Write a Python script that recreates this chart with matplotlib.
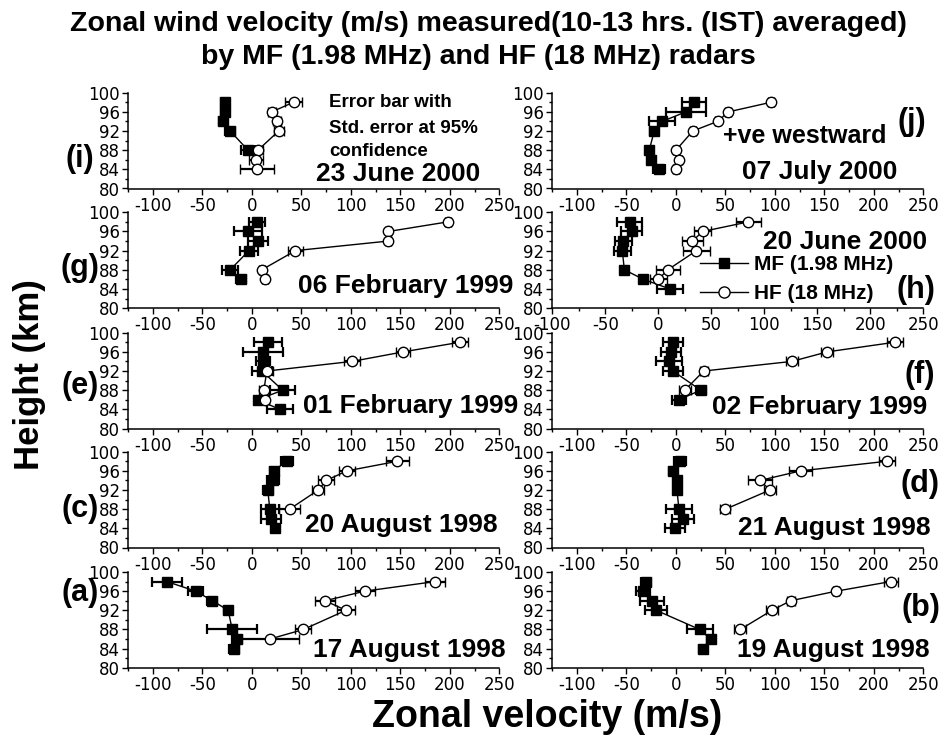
import matplotlib
matplotlib.use("Agg")
import matplotlib.pyplot as plt
from matplotlib.lines import Line2D
from matplotlib.ticker import MultipleLocator
from matplotlib import font_manager

plt.rcParams['axes.unicode_minus'] = False

W, H = 945, 745

# Heights (km) of the averaged wind estimates, top-down
heights = [98, 96, 94, 92, 88, 86, 84]

# Zonal wind (m/s) and 95% std-error half widths, per day (top-down in height)
mf_a = [-86, -57, -40, -24, -20, -15, -18]
mf_a_err = [15, 8, 5, 4, 25, 5, 5]
hf_a = [185, 114, 74, 95, 52, 18]
hf_a_err = [10, 10, 10, 9, 8, 30]

mf_b = [-30, -33, -24, -20, 24, 35, 27]
mf_b_err = [5, 7, 12, 11, 13, 4, 4]
hf_b = [217, 162, 116, 97, 65]
hf_b_err = [7, 3, 4, 6, 6]

mf_c = [35, 22, 21, 16, 18, 19, 23]
mf_c_err = [6, 4, 6, 5, 9, 10, 3]
hf_c = [147, 96, 75, 67, 38]
hf_c_err = [12, 8, 8, 6, 11]

mf_d = [4, -3, 1, 1, 3, 7, -1]
mf_d_err = [6, 4, 2, 2, 13, 11, 10]
hf_d = [213, 126, 85, 95, 50]
hf_d_err = [8, 12, 12, 6, 5]

mf_e = [16, 11, 11, 10, 31, 6, 28]
mf_e_err = [14, 20, 7, 10, 13, 3, 13]
hf_e = [210, 153, 101, 15, 12, 13]
hf_e_err = [8, 7, 8, 6, 5, 4]

mf_f = [-3, -5, -7, -3, 25, 3]
mf_f_err = [10, 10, 13, 10, 5, 7]
hf_f = [221, 153, 117, 28, 9]
hf_f_err = [8, 6, 6, 4, 6]

mf_g = [5, -4, 6, -3, -22, -11]
mf_g_err = [8, 14, 10, 9, 8, 5]
hf_g = [198, 138, 138, 44, 10, 13]
hf_g_err = [3, 3, 3, 8, 3, 3]

mf_h = [-27, -25, -33, -34, -32, -14, 11]
mf_h_err = [12, 10, 8, 8, 2, 3, 12]
hf_h = [85, 42, 32, 36, 9, 0]
hf_h_err = [12, 8, 10, 13, 11, 8]

mf_i = [-27, -27, -29, -22, -4]
mf_i_err = [4, 4, 4, 5, 7]
hf_i = [42, 20, 25, 27, 6, 4, 5]
hf_i_err = [9, 4, 4, 5, 5, 7, 17]

mf_j = [18, 10, -14, -22, -27, -25, -17]
mf_j_err = [12, 20, 13, 4, 3, 3, 6]
hf_j = [96, 53, 42, 17, 0, 3, 0]
hf_j_err = [3, 3, 3, 3, 3, 3, 3]

dates = {
    'a': '17 August 1998', 'b': '19 August 1998', 'c': '20 August 1998',
    'd': '21 August 1998', 'e': '01 February 1999', 'f': '02 February 1999',
    'g': '06 February 1999', 'h': '20 June 2000', 'i': '23 June 2000',
    'j': '07 July 2000',
}

names = {f.name for f in font_manager.fontManager.ttflist}
BOLD = 'Liberation Sans' if 'Liberation Sans' in names else 'DejaVu Sans'
NARROW = 'Liberation Sans Narrow' if 'Liberation Sans Narrow' in names else BOLD
TICKFONT = 'DejaVu Sans'


def fx(px):
    return px / W


def fy(py):
    return 1 - py / H


fig = plt.figure(figsize=(W / 100, H / 100), dpi=100)

col_left = {0: 128.3, 1: 552.3}
col_w = 371.0
row_top = [92.7, 212.3, 332.7, 451.7, 572.0]
row_h = 95.8

# panel key -> (column, row, x-limits, letter position, date anchor (left, baseline))
panels = {
    'i': (0, 0, (-125, 250), (80, 159), (316, 181), mf_i, mf_i_err, hf_i, hf_i_err),
    'j': (1, 0, (-125, 250), (912, 122), (742, 179), mf_j, mf_j_err, hf_j, hf_j_err),
    'g': (0, 1, (-125, 250), (80, 268), (298, 293), mf_g, mf_g_err, hf_g, hf_g_err),
    'h': (1, 1, (-100, 250), (916, 290), (763, 249), mf_h, mf_h_err, hf_h, hf_h_err),
    'e': (0, 2, (-125, 250), (80, 386), (303, 413), mf_e, mf_e_err, hf_e, hf_e_err),
    'f': (1, 2, (-125, 250), (920, 375), (712, 414), mf_f, mf_f_err, hf_f, hf_f_err),
    'c': (0, 3, (-125, 250), (80, 509), (305, 532), mf_c, mf_c_err, hf_c, hf_c_err),
    'd': (1, 3, (-125, 250), (920, 484), (738, 535), mf_d, mf_d_err, hf_d, hf_d_err),
    'a': (0, 4, (-125, 250), (80, 593), (313, 657), mf_a, mf_a_err, hf_a, hf_a_err),
    'b': (1, 4, (-125, 250), (921, 608), (737, 657), mf_b, mf_b_err, hf_b, hf_b_err),
}

axes = {}
for key, (col, row, xlim, letter_xy, date_xy, mf, mf_err, hf, hf_err) in panels.items():
    left = col_left[col]
    top = row_top[row]
    ax = fig.add_axes([fx(left), fy(top + row_h), col_w / W, row_h / H])
    axes[key] = ax

    ax.errorbar(mf, heights[:len(mf)], xerr=mf_err, fmt='-s', color='k',
                ms=6.5, mfc='k', mec='k', lw=1, elinewidth=1.6,
                capsize=3.8, capthick=1.6, zorder=3)
    ax.errorbar(hf, heights[:len(hf)], xerr=hf_err, fmt='-o', color='k',
                ms=7.5, mfc='white', mec='k', mew=1, lw=1, elinewidth=1.6,
                capsize=3.8, capthick=1.6, zorder=4)

    ax.set_xlim(*xlim)
    ax.set_ylim(80, 100)
    ax.xaxis.set_major_locator(MultipleLocator(50))
    ax.xaxis.set_minor_locator(MultipleLocator(25))
    ax.yaxis.set_major_locator(MultipleLocator(4))
    ax.yaxis.set_minor_locator(MultipleLocator(2))
    ax.patch.set_alpha(0)
    for side in ('top', 'right'):
        ax.spines[side].set_visible(False)
    for side in ('left', 'bottom'):
        ax.spines[side].set_linewidth(1.1)
    ax.tick_params(axis='both', which='major', direction='out', length=4,
                   width=1, labelsize=12, pad=2)
    ax.tick_params(axis='both', which='minor', direction='out', length=2.5,
                   width=1)
    for lab in ax.get_xticklabels() + ax.get_yticklabels():
        lab.set_family(TICKFONT)

    fig.text(fx(letter_xy[0]), fy(letter_xy[1]), f'({key})', ha='center',
             va='center', fontsize=22, fontweight='bold', family=BOLD)
    fig.text(fx(date_xy[0]), fy(date_xy[1]), dates[key], ha='left',
             va='baseline', fontsize=19, fontweight='bold', family=BOLD)

# Annotations in the top row
for txt, base in (('Error bar with', 107), ('Std. error at 95%', 133),
                  ('confidence', 156)):
    fig.text(fx(329), fy(base), txt, ha='left', va='baseline', fontsize=13.5,
             fontweight='bold', family=BOLD)
fig.text(fx(723), fy(143), '+ve westward', ha='left', va='baseline',
         fontsize=18, fontweight='bold', family=BOLD)

# Legend inside panel (h)
handles = [
    Line2D([], [], color='k', lw=1, marker='s', ms=7, mfc='k', mec='k'),
    Line2D([], [], color='k', lw=1, marker='o', ms=8, mfc='white', mec='k'),
]
axes['h'].legend(handles, ['MF (1.98 MHz)', 'HF (18 MHz)'], loc='upper left',
                 bbox_to_anchor=(fx(700), fy(255)),
                 bbox_transform=fig.transFigure, frameon=False,
                 prop=dict(family=BOLD, weight='bold', size=15),
                 handlelength=2.3, handletextpad=0.3, labelspacing=0.5,
                 borderpad=0, borderaxespad=0)

# Titles and axis captions
fig.text(fx(488), fy(24), 'Zonal wind velocity (m/s) measured(10-13 hrs. (IST) averaged)',
         ha='center', va='center', fontsize=20.5, fontweight='bold', family=NARROW)
fig.text(fx(478), fy(57), 'by MF (1.98 MHz) and HF (18 MHz) radars',
         ha='center', va='center', fontsize=20.5, fontweight='bold', family=NARROW)
fig.text(fx(30), fy(375), 'Height (km)', rotation=90, ha='center', va='center',
         fontsize=25, fontweight='bold', family=BOLD)
fig.text(fx(547), fy(717), 'Zonal velocity (m/s)', ha='center', va='center',
         fontsize=27, fontweight='bold', family=BOLD)

fig.savefig('out.png', dpi=100)
